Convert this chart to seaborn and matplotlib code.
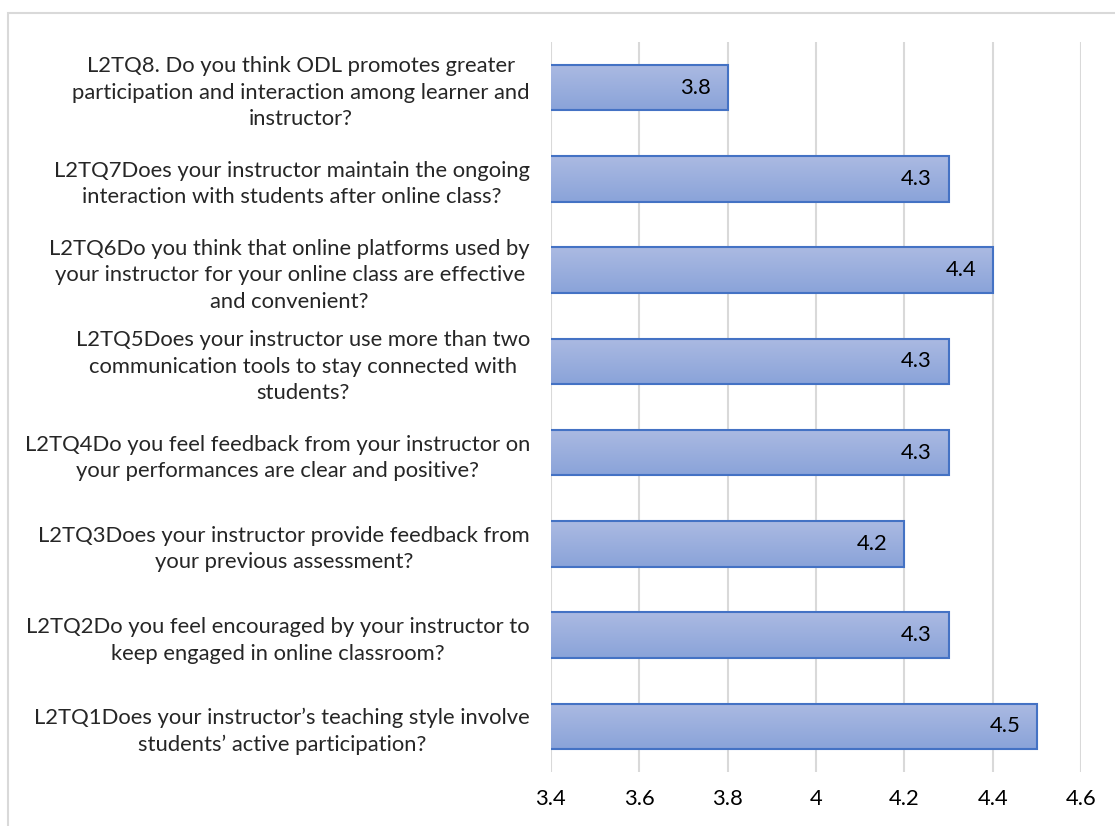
import numpy as np
import pandas as pd
import matplotlib.pyplot as plt
import matplotlib.patches as mpatches
from matplotlib.colors import LinearSegmentedColormap
import seaborn as sns

sns.set_theme(style="white")
plt.rcParams['font.family'] = ['Lato', 'DejaVu Sans']

questions = [
    "L2TQ8. Do you think ODL promotes greater\nparticipation and interaction among learner and\ninstructor?",
    "L2TQ7Does your instructor maintain the ongoing\ninteraction with students after online class?",
    "L2TQ6Do you think that online platforms used by\nyour instructor for your online class are effective\nand convenient?",
    "L2TQ5Does your instructor use more than two\ncommunication tools to stay connected with\nstudents?",
    "L2TQ4Do you feel feedback from your instructor on\nyour performances are clear and positive?",
    "L2TQ3Does your instructor provide feedback from\nyour previous assessment?",
    "L2TQ2Do you feel encouraged by your instructor to\nkeep engaged in online classroom?",
    "L2TQ1Does your instructor\u2019s teaching style involve\nstudents\u2019 active participation?",
]
scores = [3.8, 4.3, 4.4, 4.3, 4.3, 4.2, 4.3, 4.5]
xticks = [3.4, 3.6, 3.8, 4.0, 4.2, 4.4, 4.6]
xtick_labels = ["3.4", "3.6", "3.8", "4", "4.2", "4.4", "4.6"]

df = pd.DataFrame({"Question": questions, "Score": scores})

fig = plt.figure(figsize=(11.15, 8.26), dpi=100)
ax = fig.add_axes([0.494, 0.0654, 0.4756, 0.8838])

sns.barplot(data=df, x="Score", y="Question", orient="h", color="#9db1de",
            saturation=1, width=0.5, edgecolor="#4472c4", linewidth=1.5, ax=ax)

fs = 15.8
ax.set_xlim(xticks[0], xticks[-1])
ax.set_ylim(7.5, -0.5)

# vertical gradient fill like the office chart
grad = LinearSegmentedColormap.from_list("bar", ["#abbae2", "#8aa3d9"])
xmin = ax.get_xlim()[0]
for p in ax.patches:
    x0, y0 = p.get_x(), p.get_y()
    w, h = p.get_width(), p.get_height()
    p.set_facecolor("none")
    p.set_zorder(3)
    ax.imshow(np.linspace(0, 1, 64).reshape(-1, 1), cmap=grad, aspect="auto",
              extent=(max(x0, xmin), x0 + w, y0 + h, y0), origin="upper", zorder=2)
ax.set_xlim(xticks[0], xticks[-1])
ax.set_ylim(7.5, -0.5)

ax.set_xticks(xticks)
ax.set_xticklabels(xtick_labels)
ax.grid(axis="x", color="#d9d9d9", linewidth=1.5)
ax.set_axisbelow(True)
for s in ax.spines.values():
    s.set_visible(False)
ax.set_xlabel("")
ax.set_ylabel("")
ax.tick_params(axis="x", labelsize=fs, pad=12, length=0, colors="#000000")
ax.tick_params(axis="y", labelsize=fs, pad=15, length=0)
for t in ax.get_yticklabels():
    t.set_multialignment("center")
    t.set_linespacing(1.4)

for i, v in enumerate(scores):
    ax.annotate(f"{v:g}", xy=(v, i), xytext=(-12, 0), textcoords="offset points",
                ha="right", va="center", fontsize=fs, color="#000000", zorder=5)

fig.patches.append(mpatches.Rectangle((8 / 1115, -0.1), 1.2, 1.1 - 13 / 826,
                                      transform=fig.transFigure, fill=False,
                                      edgecolor="#d9d9d9", linewidth=1.5))

fig.savefig("out.png", dpi=100)
